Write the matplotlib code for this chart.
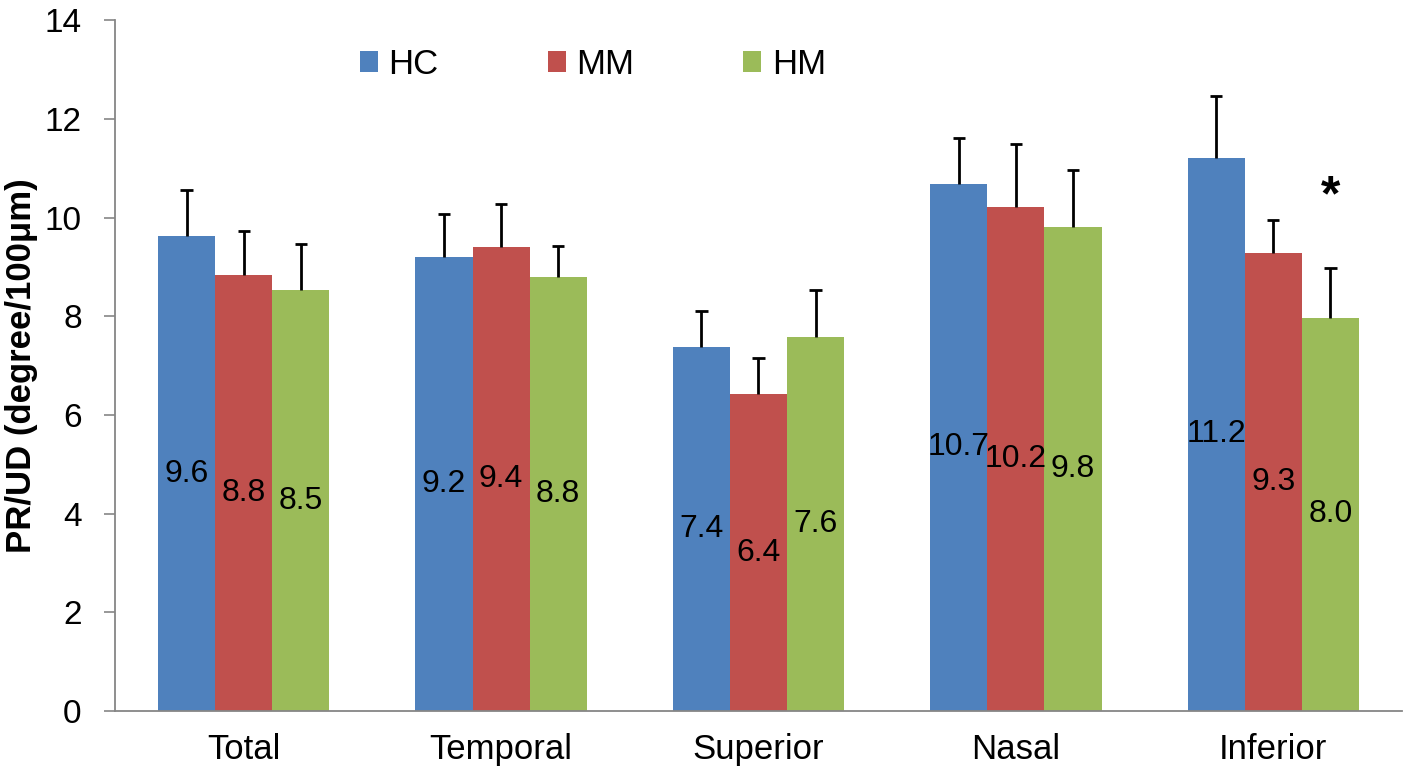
import numpy as np
import matplotlib.pyplot as plt

plt.rcParams['font.family'] = ['Liberation Sans', 'DejaVu Sans']

regions = ['Total', 'Temporal', 'Superior', 'Nasal', 'Inferior']
groups = ['HC', 'MM', 'HM']
colors = ['#4F81BD', '#C0504D', '#9BBB59']

hc = [9.62, 9.20, 7.37, 10.68, 11.21]
mm = [8.83, 9.40, 6.42, 10.22, 9.29]
hm = [8.53, 8.80, 7.57, 9.80, 7.97]
hc_err = [0.94, 0.88, 0.73, 0.93, 1.25]
mm_err = [0.89, 0.87, 0.74, 1.28, 0.66]
hm_err = [0.94, 0.62, 0.97, 1.16, 1.00]
labels = [['9.6', '9.2', '7.4', '10.7', '11.2'],
          ['8.8', '9.4', '6.4', '10.2', '9.3'],
          ['8.5', '8.8', '7.6', '9.8', '8.0']]

fig = plt.figure(figsize=(14.08, 7.75), dpi=100)
ax = fig.add_axes([0.0817, 0.0826, 0.914, 0.8914])

x = np.arange(len(regions))
w = 0.222
cap = 0.024
for i, (vals, errs) in enumerate(zip([hc, mm, hm], [hc_err, mm_err, hm_err])):
    pos = x + (i - 1) * w
    vals = np.array(vals)
    tops = vals + np.array(errs)
    ax.bar(pos, vals, w, color=colors[i], label=groups[i], zorder=2)
    # upper-only error bars with a single cap
    ax.vlines(pos, vals, tops, color='black', lw=2, zorder=3)
    ax.hlines(tops, pos - cap, pos + cap, color='black', lw=2, zorder=3)
    for p, v, t in zip(pos, vals, labels[i]):
        ax.text(p, v / 2, t, ha='center', va='center', fontsize=23, color='black', zorder=4)

# significance marker over HM in Inferior
ax.text(x[4] + w, 10.4, '*', ha='center', va='center', fontsize=36, fontweight='bold')

ax.set_xlim(-0.5, 4.5)
ax.set_ylim(0, 14)
ax.set_yticks(np.arange(0, 15, 2))
ax.set_xticks(x)
ax.set_xticklabels(regions, fontsize=25)
ax.tick_params(axis='y', labelsize=24, direction='out', length=8, width=1.2,
               color='#868686', pad=16)
ax.tick_params(axis='x', length=0, pad=16)
for s in ['top', 'right']:
    ax.spines[s].set_visible(False)
for s in ['left', 'bottom']:
    ax.spines[s].set_color('#868686')
    ax.spines[s].set_linewidth(1.3)
ax.set_ylabel('PR/UD (degree/100μm)', fontsize=25, fontweight='bold', labelpad=5)

ax.legend(loc='center left', bbox_to_anchor=(0.19, 0.936), ncol=3, frameon=False,
          fontsize=25, handlelength=0.52, handleheight=0.52, columnspacing=3.15,
          handletextpad=0.3, borderpad=0, borderaxespad=0)

fig.savefig('out.png', dpi=100)
